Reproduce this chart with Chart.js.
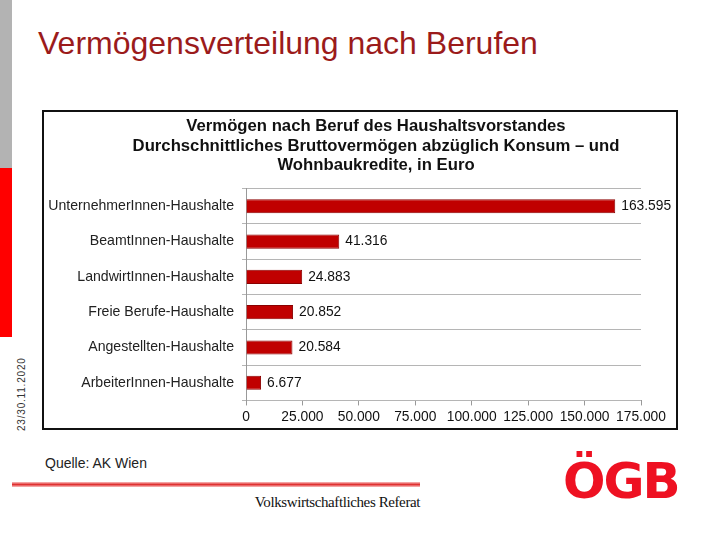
<!DOCTYPE html>
<html lang="de">
<head>
<meta charset="utf-8">
<title>Vermögensverteilung nach Berufen</title>
<script src="https://cdn.jsdelivr.net/npm/chart.js@4/dist/chart.umd.min.js"></script>
<style>
  html, body { margin: 0; padding: 0; background: #fff; }
  body { width: 720px; height: 540px; position: relative; overflow: hidden; font-family: "Liberation Sans", Arial, sans-serif; }
  .streifen-grau { position: absolute; left: 0; top: 0; width: 12px; height: 168px; background: #b3b3b3; }
  .streifen-rot { position: absolute; left: 0; top: 168px; width: 12px; height: 169px; background: #ff0000; }
  .datum { position: absolute; left: 16px; top: 431px; transform-origin: 0 0; transform: rotate(-90deg); font-size: 10px; letter-spacing: 0.8px; color: #333; white-space: nowrap; }
  h1 { position: absolute; left: 38px; top: 25px; margin: 0; font-weight: normal; font-size: 32px; color: #9b1b1b; white-space: nowrap; }
  .box { position: absolute; left: 42px; top: 110px; width: 636px; height: 320px; border: 2px solid #111; box-sizing: border-box; }
  .quelle { position: absolute; left: 45px; top: 455px; font-size: 14px; color: #222; }
  .linie { position: absolute; left: 12px; top: 482px; width: 408px; height: 5px; background: linear-gradient(#f8c0c0, #e03030 50%, #f8c0c0); }
  .referat { position: absolute; right: 300px; top: 494px; font-family: "Liberation Serif", "Times New Roman", serif; font-size: 15px; color: #111; letter-spacing: -0.4px; }
  .logo { position: absolute; left: 563px; top: 452px; font-family: "DejaVu Sans", sans-serif; font-weight: bold; font-size: 50px; color: #ee1122; letter-spacing: -2px; }
</style>
</head>
<body>
<div class="streifen-grau"></div>
<div class="streifen-rot"></div>
<div class="datum">23/30.11.2020</div>
<h1>Vermögensverteilung nach Berufen</h1>
<div class="box"><canvas id="grafik" width="632" height="316"></canvas></div>
<div class="quelle">Quelle: AK Wien</div>
<div class="linie"></div>
<div class="referat">Volkswirtschaftliches Referat</div>
<div class="logo">ÖGB</div>

<script>
// Daten aus der Grafik
const berufe = [
  'UnternehmerInnen-Haushalte',
  'BeamtInnen-Haushalte',
  'LandwirtInnen-Haushalte',
  'Freie Berufe-Haushalte',
  'Angestellten-Haushalte',
  'ArbeiterInnen-Haushalte'
];
const vermoegen = [163595, 41316, 24883, 20852, 20584, 6677];
const titelZeilen = [
  'Vermögen nach Beruf des Haushaltsvorstandes',
  'Durchschnittliches Bruttovermögen abzüglich Konsum – und',
  'Wohnbaukredite, in Euro'
];
const achseMax = 175000;
const achseSchritt = 25000;

const schrift = '"Liberation Sans", Arial, sans-serif';

// 163595 -> "163.595"
function format(v) {
  return String(v).replace(/\B(?=(\d{3})+(?!\d))/g, '.');
}

// Titel etwas nach rechts rücken (wie im Original)
const titelVersatz = {
  id: 'titelVersatz',
  afterLayout(chart) {
    const t = chart.titleBlock;
    if (!t) return;
    t.left = 67;
    t.right = chart.chartArea.right;
    t.width = t.right - t.left;
  }
};

// Werte rechts neben die Balken schreiben
const wertBeschriftung = {
  id: 'wertBeschriftung',
  afterDatasetsDraw(chart) {
    const ctx = chart.ctx;
    const meta = chart.getDatasetMeta(0);
    ctx.save();
    ctx.font = '13.8px ' + schrift;
    ctx.fillStyle = '#111';
    ctx.textAlign = 'left';
    ctx.textBaseline = 'middle';
    meta.data.forEach((bar, i) => {
      ctx.fillText(format(chart.data.datasets[0].data[i]), bar.x + 6, bar.y);
    });
    ctx.restore();
  }
};

const ctx = document.getElementById('grafik').getContext('2d');
new Chart(ctx, {
  type: 'bar',
  data: {
    labels: berufe,
    datasets: [{
      data: vermoegen,
      backgroundColor: '#c00000',
      borderColor: '#8a0000',
      borderWidth: 1,
      barPercentage: 0.8,
      categoryPercentage: 0.5
    }]
  },
  options: {
    indexAxis: 'y',
    responsive: false,
    animation: false,
    layout: { padding: { top: 5, left: 2, right: 35, bottom: 0 } },
    plugins: {
      legend: { display: false },
      tooltip: { enabled: false },
      title: {
        display: true,
        text: titelZeilen,
        color: '#111',
        font: { family: schrift, size: 16.7, weight: 'bold', lineHeight: 1.17 },
        padding: { top: 0, bottom: 13 }
      }
    },
    scales: {
      x: {
        min: 0,
        max: achseMax,
        border: { display: false },
        grid: { drawOnChartArea: false, tickLength: 5, color: '#999' },
        ticks: {
          stepSize: achseSchritt,
          padding: 3,
          color: '#111',
          font: { family: schrift, size: 13.8 },
          callback: v => format(v)
        }
      },
      y: {
        afterFit(scale) { scale.width = 200; },
        border: { color: '#999' },
        grid: {
          offset: true,
          tickLength: 4,
          color: c => (c.index === berufe.length ? 'rgba(0,0,0,0)' : '#b5b5b5')
        },
        ticks: {
          padding: 8,
          color: '#222',
          font: { family: schrift, size: 14.1 }
        }
      }
    }
  },
  plugins: [titelVersatz, wertBeschriftung]
});
</script>
</body>
</html>
